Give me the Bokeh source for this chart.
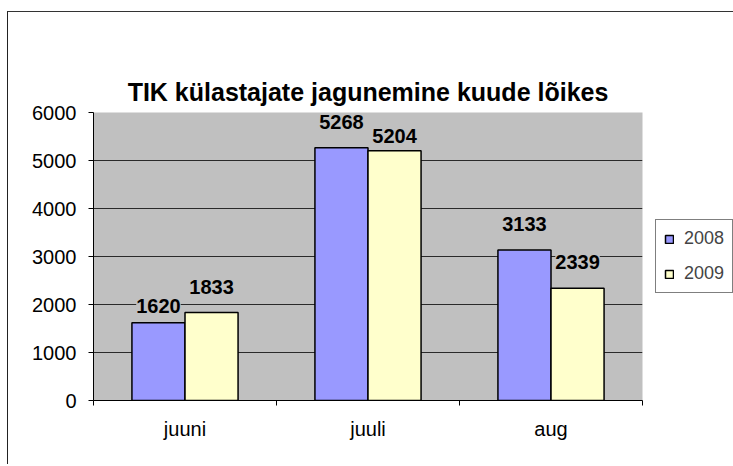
from bokeh.plotting import figure
from bokeh.layouts import column
from bokeh.models import FixedTicker, Legend, LegendItem, ColumnDataSource, Range1d, Title
from bokeh.core.properties import value
from bokeh.embed import file_html
from bokeh.resources import INLINE
import numpy as np

# ---- data ----
months = ["juuni", "juuli", "aug"]
series_names = ["2008", "2009"]
visitors_2008 = [1620, 5268, 3133]
visitors_2009 = [1833, 5204, 2339]
y_ticks = [0, 1000, 2000, 3000, 4000, 5000, 6000]
title_text = "TIK külastajate jagunemine kuude lõikes"

# ---- styling ----
FONT = "Liberation Sans"
BAR_W = 0.29
C2008 = "#9999FF"
C2009 = "#FFFFCC"
PLOT_BG = "#C0C0C0"
# pixel gap between each data label and its bar top (as placed in the original)
label_gap_2008 = [10, 19, 19]
label_gap_2009 = [19, 8, 19]

idx = np.arange(len(months))
centers = idx + 0.5
src08 = ColumnDataSource(dict(x=centers - BAR_W / 2, top=visitors_2008,
                              lab=[str(v) for v in visitors_2008],
                              off=[-g for g in label_gap_2008]))
src09 = ColumnDataSource(dict(x=centers + BAR_W / 2, top=visitors_2009,
                              lab=[str(v) for v in visitors_2009],
                              off=[-g for g in label_gap_2009]))

p = figure(output_backend="svg", toolbar_location=None, title_location=None,
           frame_width=549, frame_height=288,
           min_border_left=85, min_border_right=91,
           min_border_top=100, min_border_bottom=64,
           x_range=Range1d(0, len(months)), y_range=Range1d(y_ticks[0], y_ticks[-1]))

p.background_fill_color = PLOT_BG
p.border_fill_color = "white"
p.outline_line_color = None

# title, then an invisible spacer that sits between the title and the frame
main_title = Title(text=title_text, text_font=FONT, text_font_size="25px",
                   text_font_style="bold", align="center", vertical_align="top",
                   text_color="black", standoff=10)
p.add_layout(main_title, "above")
spacer = Title(text=" ", text_font_size="10px", standoff=35, text_alpha=0)
p.add_layout(spacer, "above")

# bars
r08 = p.vbar(x="x", top="top", width=BAR_W, bottom=0, source=src08,
             fill_color=C2008, line_color="black", line_width=1.5)
r09 = p.vbar(x="x", top="top", width=BAR_W, bottom=0, source=src09,
             fill_color=C2009, line_color="black", line_width=1.5)

# data labels
for s in (src08, src09):
    p.text(x="x", y="top", text="lab", source=s, text_align="center",
           text_baseline="bottom", y_offset="off",
           text_font=value(FONT), text_font_size="20px", text_font_style="bold",
           text_color="black", background_fill_color=PLOT_BG)

# y axis
p.yaxis.ticker = FixedTicker(ticks=y_ticks)
p.yaxis.axis_line_color = "black"
p.yaxis.major_tick_line_color = "black"
p.yaxis.major_tick_out = 5
p.yaxis.major_tick_in = 0
p.yaxis.minor_tick_line_color = None
p.yaxis.major_label_text_font = FONT
p.yaxis.major_label_text_font_size = "20px"
p.yaxis.major_label_text_color = "black"
p.yaxis.major_label_standoff = 12
p.ygrid.grid_line_color = "#2a2a2a"
p.ygrid.grid_line_width = 1

# x axis
p.xaxis.ticker = FixedTicker(ticks=list(centers), minor_ticks=list(range(len(months) + 1)))
p.xaxis.major_label_overrides = {float(c): m for c, m in zip(centers, months)}
p.xaxis.axis_line_color = "black"
p.xaxis.major_tick_line_color = None
p.xaxis.major_tick_out = 0
p.xaxis.major_tick_in = 0
p.xaxis.minor_tick_line_color = "black"
p.xaxis.minor_tick_out = 5
p.xaxis.minor_tick_in = 0
p.xaxis.major_label_text_font = FONT
p.xaxis.major_label_text_font_size = "20px"
p.xaxis.major_label_text_color = "black"
p.xaxis.major_label_standoff = 12
p.xgrid.grid_line_color = None

# legend
legend = Legend(items=[LegendItem(label=series_names[0], renderers=[r08]),
                       LegendItem(label=series_names[1], renderers=[r09])],
                location="center_left", orientation="vertical",
                glyph_width=10, glyph_height=10, label_height=20,
                spacing=14, padding=8, label_standoff=10, margin=13,
                label_text_font=FONT, label_text_font_size="18px",
                border_line_color="black", border_line_width=1,
                background_fill_color="white", background_fill_alpha=1)
p.add_layout(legend, "right")

inner = column(p, styles={"border-left": "1px solid #222222",
                          "border-top": "1px solid #333333"})
outer = column(inner, styles={"padding-left": "7px", "padding-top": "11px"})

open("out.html", "w").write(file_html(outer, INLINE))
